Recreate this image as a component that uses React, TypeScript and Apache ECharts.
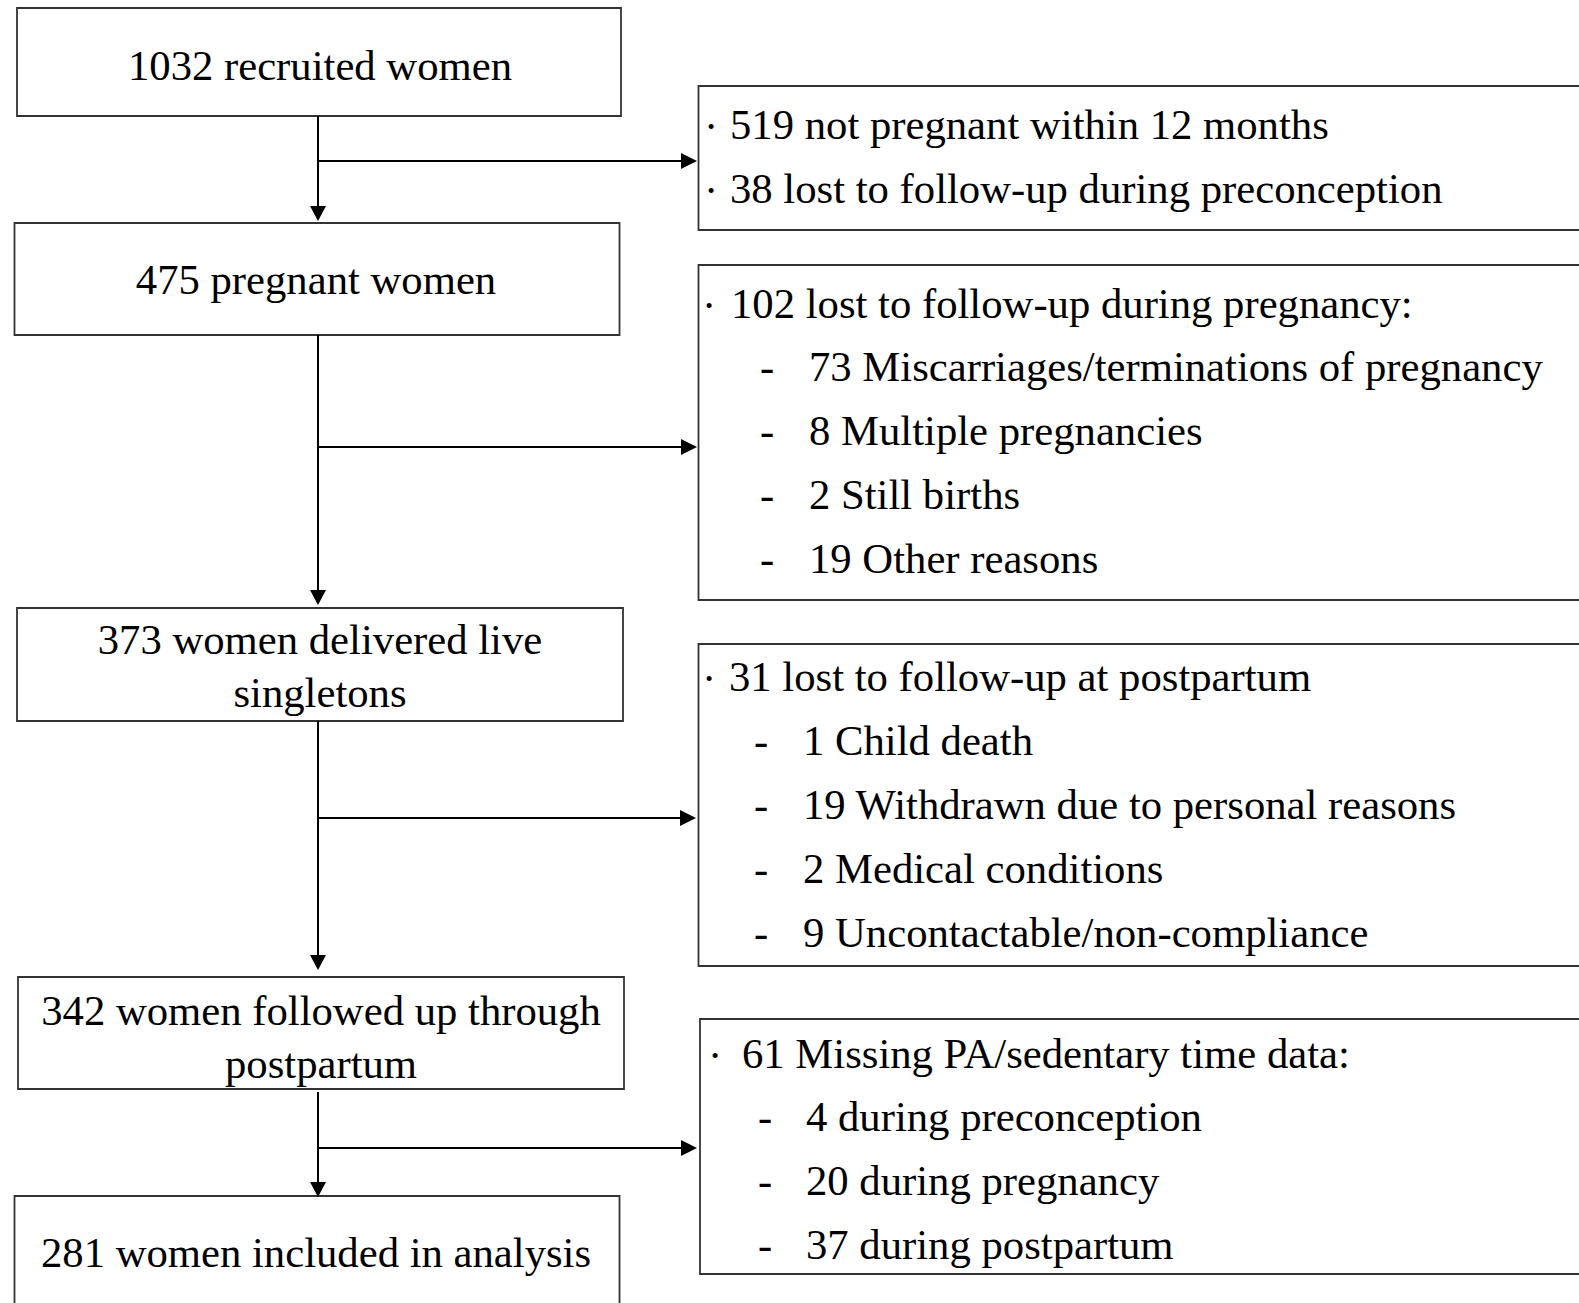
import React, { useEffect, useRef } from "react";
import * as echarts from "echarts";

// ---- Data (text content) ----
const leftBoxTexts: string[][] = [
  ["1032 recruited women"],
  ["475 pregnant women"],
  ["373 women delivered live", "singletons"],
  ["342 women followed up through", "postpartum"],
  ["281 women included in analysis"],
];

const rightBullets: string[][] = [
  ["519 not pregnant within 12 months", "38 lost to follow-up during preconception"],
  ["102 lost to follow-up during pregnancy:"],
  ["31 lost to follow-up at postpartum"],
  ["61 Missing PA/sedentary time data:"],
];

const rightSubItems: string[][] = [
  [],
  ["73 Miscarriages/terminations of pregnancy", "8 Multiple pregnancies", "2 Still births", "19 Other reasons"],
  ["1 Child death", "19 Withdrawn due to personal reasons", "2 Medical conditions", "9 Uncontactable/non-compliance"],
  ["4 during preconception", "20 during pregnancy", "37 during postpartum"],
];

// ---- Layout ----
const W = 1579;
const H = 1303;
const FONT = '"Liberation Serif", "Times New Roman", serif';
const FS = 42.7;

const leftBoxLayout = [
  { x: 17, y: 8, w: 604, h: 108, cx: 320, lineY: [65] },
  { x: 14.5, y: 223, w: 605, h: 112, cx: 316, lineY: [279] },
  { x: 17, y: 608, w: 606, h: 113, cx: 320, lineY: [639, 692] },
  { x: 18, y: 977, w: 606, h: 112, cx: 321, lineY: [1010, 1063] },
  { x: 14.5, y: 1196, w: 605, h: 140, cx: 316, lineY: [1252] },
];

const rightBoxLayout = [
  { x: 698.5, y: 86, h: 144, dotX: 711, textX: 730, dashX: 766, subX: 809, lineY: [124, 188] },
  { x: 698.5, y: 265, h: 335, dotX: 709, textX: 731, dashX: 767, subX: 809, lineY: [303, 366, 430, 494, 558] },
  { x: 698.5, y: 644, h: 322, dotX: 709, textX: 729, dashX: 761, subX: 803, lineY: [676, 740, 804, 868, 932] },
  { x: 700, y: 1019, h: 255, dotX: 715, textX: 742, dashX: 765, subX: 806, lineY: [1053, 1116, 1180, 1244] },
];

const trunkX = 318;
const arrows = [
  { y0: 116, y1: 221, hy: 161, tipX: 697 },
  { y0: 335, y1: 605, hy: 447, tipX: 697 },
  { y0: 721, y1: 970, hy: 818, tipX: 696 },
  { y0: 1092, y1: 1197, hy: 1148, tipX: 697 },
];

const LINE = "#000";
const BORDER = "#333";

function buildGraphics() {
  const els: any[] = [];
  const txt = (x: number, y: number, text: string, align: string) => ({
    type: "text",
    x,
    y,
    silent: true,
    style: {
      text,
      fontSize: FS,
      fontFamily: FONT,
      fill: "#000",
      align,
      verticalAlign: "middle",
    },
  });

  leftBoxLayout.forEach((b, i) => {
    els.push({
      type: "rect",
      shape: { x: b.x, y: b.y, width: b.w, height: b.h },
      style: { fill: "#fff", stroke: BORDER, lineWidth: 1.8 },
    });
    leftBoxTexts[i].forEach((t, j) => els.push(txt(b.cx, b.lineY[j], t, "center")));
  });

  rightBoxLayout.forEach((b, i) => {
    els.push({
      type: "rect",
      shape: { x: b.x, y: b.y, width: 1200, height: b.h },
      style: { fill: "#fff", stroke: BORDER, lineWidth: 1.8 },
    });
    let k = 0;
    rightBullets[i].forEach((t) => {
      els.push(txt(b.dotX, b.lineY[k] + 2, "·", "center"));
      els.push(txt(b.textX, b.lineY[k], t, "left"));
      k++;
    });
    rightSubItems[i].forEach((t) => {
      els.push(txt(b.dashX, b.lineY[k], "-", "center"));
      els.push(txt(b.subX, b.lineY[k], t, "left"));
      k++;
    });
  });

  arrows.forEach((a) => {
    els.push({
      type: "line",
      shape: { x1: trunkX, y1: a.y0, x2: trunkX, y2: a.y1 - 14 },
      style: { stroke: LINE, lineWidth: 2 },
    });
    els.push({
      type: "polygon",
      shape: { points: [[trunkX - 8, a.y1 - 15], [trunkX + 8, a.y1 - 15], [trunkX, a.y1]] },
      style: { fill: LINE },
    });
    els.push({
      type: "line",
      shape: { x1: trunkX + 1, y1: a.hy, x2: a.tipX - 14, y2: a.hy },
      style: { stroke: LINE, lineWidth: 2 },
    });
    els.push({
      type: "polygon",
      shape: { points: [[a.tipX - 16, a.hy - 8], [a.tipX - 16, a.hy + 8], [a.tipX, a.hy]] },
      style: { fill: LINE },
    });
  });

  return els;
}

export default function App() {
  const ref = useRef<HTMLDivElement>(null);
  useEffect(() => {
    document.body.style.margin = "0";
    document.body.style.overflow = "hidden";
    if (!ref.current) return;
    const chart = echarts.init(ref.current, null, { renderer: "svg" });
    chart.setOption({
      animation: false,
      backgroundColor: "#fff",
      graphic: { elements: buildGraphics() },
    });
    return () => chart.dispose();
  }, []);
  return (
    <div
      ref={ref}
      style={{ position: "absolute", left: 0, top: 0, width: W, height: H, background: "#fff" }}
    />
  );
}
